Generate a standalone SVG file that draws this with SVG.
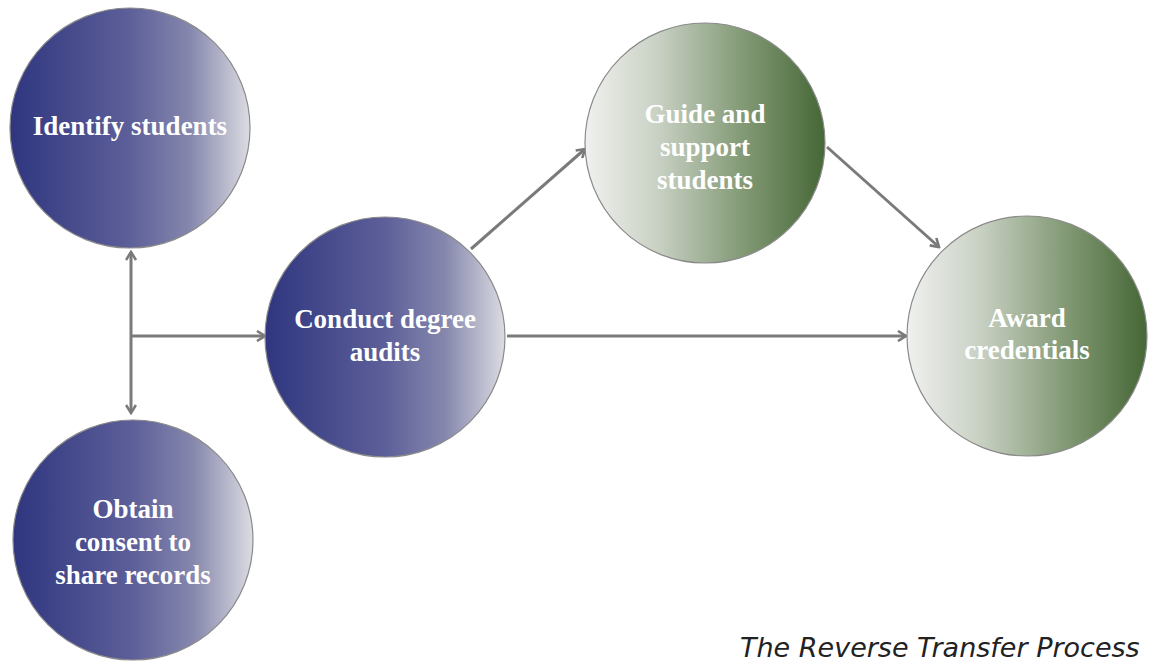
<svg xmlns="http://www.w3.org/2000/svg" width="1150" height="661" viewBox="0 0 1150 661">
<style>
.node circle{stroke:#8a8a8a;stroke-width:1.2}
.lbl{font-family:"Liberation Serif","Times New Roman",serif;font-weight:bold;font-size:27px;fill:#ffffff;text-anchor:middle}
.conn line{stroke:#7a7a7a;stroke-width:3;fill:none}
.cap{font-family:"DejaVu Sans",sans-serif;font-style:italic;font-size:27px;fill:#222}
</style>
<defs>
<linearGradient id="gBlue" x1="0" y1="0" x2="1" y2="0">
<stop offset="0" stop-color="#2f367f"/>
<stop offset="0.5" stop-color="#5d5f99"/>
<stop offset="0.75" stop-color="#8587ad"/>
<stop offset="1" stop-color="#dcdce2"/>
</linearGradient>
<linearGradient id="gGreen" x1="0" y1="0" x2="1" y2="0">
<stop offset="0" stop-color="#f0f1ef"/>
<stop offset="0.3" stop-color="#c9d1c4"/>
<stop offset="0.65" stop-color="#849b77"/>
<stop offset="1" stop-color="#466736"/>
</linearGradient>
<marker id="arr" viewBox="0 0 12 12" refX="10" refY="6" markerWidth="12" markerHeight="12" markerUnits="userSpaceOnUse" orient="auto-start-reverse">
<path d="M2,1 L10,6 L2,11" fill="none" stroke="#7a7a7a" stroke-width="2.6"/>
</marker>
</defs>
<rect width="1150" height="661" fill="#ffffff"/>
<g class="conn">
<line x1="131" y1="252" x2="131" y2="413" marker-start="url(#arr)" marker-end="url(#arr)"/>
<line x1="131" y1="336" x2="265" y2="336" marker-end="url(#arr)"/>
<line x1="471" y1="249" x2="585" y2="149" marker-end="url(#arr)"/>
<line x1="827" y1="147" x2="939" y2="247" marker-end="url(#arr)"/>
<line x1="507" y1="336" x2="906" y2="336" marker-end="url(#arr)"/>
</g>
<g id="n1" class="node"><circle cx="130" cy="128" r="120" fill="url(#gBlue)"/><text class="lbl" x="130" y="135">Identify students</text></g>
<g id="n2" class="node"><circle cx="133" cy="540" r="120" fill="url(#gBlue)"/><text class="lbl" x="133" y="518">Obtain</text><text class="lbl" x="133" y="551">consent to</text><text class="lbl" x="133" y="584">share records</text></g>
<g id="n3" class="node"><circle cx="385" cy="337" r="120" fill="url(#gBlue)"/><text class="lbl" x="385" y="328">Conduct degree</text><text class="lbl" x="385" y="361">audits</text></g>
<g id="n4" class="node"><circle cx="705" cy="143" r="120" fill="url(#gGreen)"/><text class="lbl" x="705" y="123">Guide and</text><text class="lbl" x="705" y="156">support</text><text class="lbl" x="705" y="189">students</text></g>
<g id="n5" class="node"><circle cx="1027" cy="336" r="120" fill="url(#gGreen)"/><text class="lbl" x="1027" y="327">Award</text><text class="lbl" x="1027" y="359">credentials</text></g>
<text class="cap" x="740" y="657">The Reverse Transfer Process</text>
</svg>
